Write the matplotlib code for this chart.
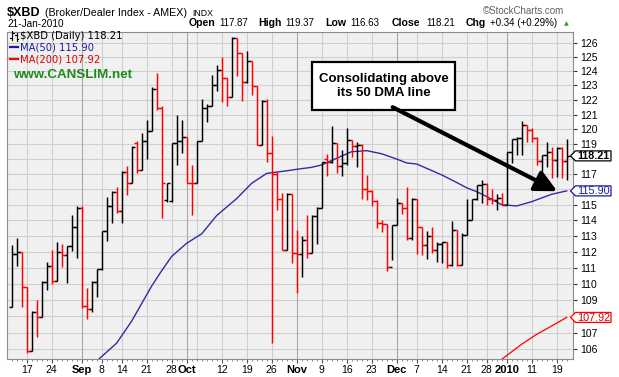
import matplotlib
matplotlib.use("Agg")
import matplotlib.pyplot as plt
import numpy as np
from matplotlib.lines import Line2D
from matplotlib.patches import Polygon, Rectangle
from matplotlib.ticker import FixedLocator, NullLocator, FixedFormatter
from matplotlib.transforms import IdentityTransform

# daily bars, 12-Aug-2009 .. 21-Jan-2010 (one entry per trading day)
opens = [108.55, 111.85, 111.95, 109.77, 105.91, 108.25, 107.97, 110.10, 111.10, 110.13,
         111.96, 111.79, 112.36, 113.55, 114.80, 108.59, 108.43, 110.10, 110.90, 113.28,
         114.89, 115.86, 114.61, 117.16, 116.44, 119.07, 117.28, 119.18, 119.85, 122.74,
         121.44, 115.30, 115.25, 119.07, 119.18, 119.47, 116.44, 116.40, 119.22, 121.44,
         121.55, 123.04, 124.06, 123.50, 122.23, 126.35, 125.25, 123.27, 124.74, 122.97,
         118.95, 121.95, 118.39, 117.00, 115.36, 112.10, 115.70, 111.90, 111.85, 112.74,
         111.93, 114.30, 114.80, 118.00, 117.79, 119.09, 117.55, 117.72, 119.30, 118.88,
         118.96, 116.01, 115.92, 115.27, 113.85, 113.76, 111.02, 113.70, 115.09, 114.78,
         112.85, 115.35, 113.59, 112.42, 112.96, 112.10, 112.51, 112.60, 111.16, 113.37,
         111.16, 113.06, 114.02, 115.35, 116.29, 116.35, 115.35, 115.31, 115.42, 114.99,
         118.50, 119.33, 119.40, 120.28, 119.95, 119.39, 117.89, 118.27, 118.50, 117.94,
         118.72, 117.87]
highs = [112.42, 112.85, 112.00, 109.77, 108.32, 108.97, 110.14, 111.32, 112.10, 112.59,
         112.48, 112.36, 114.34, 114.93, 114.89, 109.71, 110.15, 110.90, 113.28, 115.53,
         115.92, 116.18, 117.20, 117.57, 118.87, 119.23, 119.73, 120.62, 122.92, 123.84,
         121.55, 116.42, 119.07, 120.97, 120.60, 119.50, 117.61, 119.22, 122.05, 121.72,
         123.74, 124.42, 124.97, 123.50, 126.42, 126.35, 125.25, 125.44, 124.74, 122.97,
         121.99, 122.05, 119.56, 117.17, 115.75, 115.75, 115.70, 113.39, 113.00, 114.34,
         114.34, 114.86, 117.83, 118.34, 120.23, 119.09, 118.61, 120.06, 119.30, 119.14,
         119.03, 116.97, 115.97, 115.31, 114.01, 113.76, 113.70, 115.42, 115.09, 116.18,
         115.42, 115.35, 113.59, 113.32, 113.59, 112.61, 112.63, 112.63, 113.98, 113.37,
         113.17, 115.35, 115.35, 116.29, 116.61, 116.40, 116.00, 115.68, 115.74, 118.50,
         119.33, 119.45, 120.57, 120.28, 120.07, 119.50, 118.27, 119.11, 118.83, 118.83,
         118.83, 119.37]
lows = [108.55, 111.12, 108.55, 105.78, 105.91, 106.75, 107.97, 109.60, 109.96, 110.13,
        111.05, 110.01, 112.06, 111.62, 108.49, 107.81, 108.28, 109.16, 110.85, 112.64,
        113.85, 114.45, 113.85, 115.60, 116.44, 117.06, 117.28, 117.99, 119.85, 121.31,
        114.13, 115.20, 115.20, 117.62, 118.40, 116.40, 114.34, 116.40, 119.18, 120.52,
        121.55, 122.60, 121.88, 121.58, 122.23, 123.67, 121.94, 123.16, 122.34, 118.95,
        118.95, 117.83, 106.35, 114.67, 112.10, 112.10, 111.27, 109.40, 110.42, 111.60,
        111.90, 112.51, 114.80, 116.85, 117.74, 117.06, 116.85, 117.60, 118.16, 117.50,
        115.36, 115.31, 114.93, 113.50, 113.27, 110.80, 111.49, 113.70, 114.38, 112.74,
        112.74, 111.86, 111.79, 111.51, 111.90, 111.35, 111.26, 111.00, 111.10, 111.10,
        111.16, 113.06, 114.02, 115.31, 115.10, 114.99, 115.05, 114.67, 114.99, 114.99,
        117.72, 118.27, 118.27, 119.17, 119.17, 117.61, 117.23, 117.49, 116.73, 116.84,
        116.73, 116.63]
closes = [111.85, 111.95, 109.77, 105.91, 108.25, 107.97, 110.10, 111.10, 110.13, 111.96,
          111.79, 112.36, 113.55, 114.78, 108.59, 108.43, 110.10, 110.90, 113.28, 114.89,
          115.86, 114.61, 117.16, 116.44, 118.83, 117.28, 119.18, 119.85, 122.74, 121.44,
          116.40, 116.42, 119.07, 119.18, 119.50, 116.44, 116.40, 119.22, 121.44, 121.55,
          123.04, 124.06, 123.50, 122.23, 126.35, 125.25, 123.27, 124.74, 122.97, 118.95,
          121.95, 118.39, 117.00, 115.36, 112.10, 115.70, 111.89, 111.85, 112.74, 111.93,
          114.30, 114.80, 117.83, 117.79, 119.09, 117.55, 117.72, 119.30, 118.88, 118.96,
          116.01, 115.92, 115.27, 113.85, 113.76, 111.02, 113.70, 115.09, 114.78, 112.85,
          115.35, 113.59, 112.42, 112.96, 112.10, 112.51, 112.60, 111.16, 113.37, 111.16,
          113.06, 114.02, 115.35, 116.29, 116.35, 115.35, 115.31, 115.42, 114.99, 118.50,
          119.33, 119.40, 120.28, 119.95, 119.39, 117.89, 118.27, 118.50, 117.94, 118.72,
          117.87, 118.21]

# moving averages (bar index, value)
ma50_idx = [17, 21, 24, 28, 30, 32, 35, 38, 41, 45, 48, 51, 55, 57, 60, 62, 66, 68, 71,
            74, 77, 79, 81, 86, 89, 91, 93, 95, 98, 101, 104, 108, 111]
ma50 = [105.3, 106.37, 107.7, 109.85, 110.8, 111.7, 112.53, 113.13, 114.3, 115.4, 116.4,
        117.05, 117.22, 117.32, 117.45, 117.61, 118.2, 118.49, 118.56, 118.35, 118.0,
        117.74, 117.67, 116.95, 116.45, 116.1, 115.85, 115.53, 115.0, 114.92, 115.2,
        115.68, 115.90]
ma200_idx = [98, 100, 102, 105, 108, 111]
ma200 = [105.4, 105.85, 106.3, 106.9, 107.4, 107.92]

tick_idx = [3, 8, 14, 18, 22, 27, 32, 35, 42, 47, 52, 57, 62, 67, 72, 77, 81, 86, 91,
            95, 99, 104, 109]
tick_labels = ["17", "24", "Sep", "8", "14", "21", "28", "Oct", "12", "19", "26", "Nov",
               "9", "16", "23", "Dec", "7", "14", "21", "28", "2010", "11", "19"]
month_idx = [14, 35, 57, 77, 99]
extra_grid_idx = [37]
price_ticks = list(range(106, 127))

W, H = 619, 377
BLUE = "#2e2ea3"
RED = "#ff0000"
GREEN = "#1f8a1f"

fig = plt.figure(figsize=(W / 100, H / 100), dpi=100)
fig.patch.set_facecolor("white")
ax = fig.add_axes([6.7 / W, 1 - 359 / H, 566.6 / W, 326.7 / H])
ax.set_facecolor("#f0f0f0")

ax.set_yscale("log")
ax.set_xlim(-1.0, 112.32)
ax.set_ylim(105.42, 126.74)

# grid
for p in price_ticks:
    ax.axhline(p, color="#cfcfcf", lw=0.8, zorder=0)
for i in tick_idx + extra_grid_idx:
    c = "#a8a8a8" if i in month_idx else "#cfcfcf"
    ax.axvline(i, color=c, lw=0.8, zorder=0)

# OHLC bars
x = np.arange(len(closes))
colors = ["black"] + ["red" if c < p else "black" for p, c in zip(closes[:-1], closes[1:])]
ax.vlines(x, lows, highs, colors=colors, lw=1.05, zorder=3)
ax.hlines(opens, x - 0.6, x, colors=colors, lw=1.05, zorder=3)
ax.hlines(closes, x, x + 0.6, colors=colors, lw=1.05, zorder=3)

# moving averages
ax.plot(ma50_idx, ma50, color=BLUE, lw=1.0, zorder=2)
ax.plot(ma200_idx, ma200, color=RED, lw=0.9, zorder=2)

# last values get a tag on the price axis, so their grid labels are left blank
last_vals = [closes[-1], ma50[-1], ma200[-1]]
hidden = {round(v) for v in last_vals}
ytick_text = ["" if p in hidden else str(p) for p in price_ticks]

# axes styling
for s in ax.spines.values():
    s.set_color("#8c8c8c")
    s.set_linewidth(0.8)
ax.yaxis.tick_right()
ax.yaxis.set_major_locator(FixedLocator(price_ticks))
ax.yaxis.set_major_formatter(FixedFormatter(ytick_text))
ax.yaxis.set_minor_locator(NullLocator())
ax.tick_params(axis="y", length=3, pad=2, labelsize=7.5, colors="#333333",
               labelcolor="black")
ax.set_xticks(tick_idx)
ax.set_xticklabels(tick_labels)
ax.xaxis.set_minor_locator(FixedLocator(x))
ax.tick_params(axis="x", which="major", length=3, pad=1.5, labelsize=7.5, colors="#555555",
               labelcolor="black")
ax.tick_params(axis="x", which="minor", length=1.5, colors="#777777")
for lab, i in zip(ax.get_xticklabels(), tick_idx):
    lab.set_family("Liberation Sans")
    if i in month_idx:
        lab.set_fontweight("bold")
        lab.set_fontsize(8)
for lab in ax.get_yticklabels():
    lab.set_family("Liberation Sans")

# annotation box and arrow
ax.add_patch(Rectangle((0.5383, 0.7621), 0.2529, 0.1479, transform=ax.transAxes,
                       facecolor="white", edgecolor="black", lw=1.6, zorder=5))
ax.text(0.6648, 0.836, "Consolidating above\nits 50 DMA line", transform=ax.transAxes,
        ha="center", va="center", fontsize=9.5, fontweight="bold",
        family="Liberation Sans", linespacing=1.2, zorder=6)
ax.annotate("", xy=(109.1, 115.88), xytext=(76.2, 121.5),
            arrowprops=dict(arrowstyle="-|>,head_length=1.0,head_width=0.5",
                            lw=3.0, color="black", shrinkA=0, shrinkB=0,
                            mutation_scale=13),
            zorder=7)


def ptext(px, py, s, **kw):
    kw.setdefault("family", "Liberation Sans")
    return fig.text(px / W, 1 - py / H, s, va="baseline", **kw)


# header
ptext(7, 15.5, "$XBD", fontsize=9, fontweight="bold")
ptext(45, 15.5, "(Broker/Dealer Index - AMEX)", fontsize=7.7)
ptext(192, 15.5, "INDX", fontsize=6.3)
ptext(7, 26.7, "21-Jan-2010", fontsize=7.2)
ptext(483, 13.5, "\u00a9StockCharts.com", fontsize=7, color="#606060")
for px, s, bold in [(188.3, "Open", True), (219, "117.87", False), (258.3, "High", True),
                    (285, "119.37", False), (325.7, "Low", True), (350, "116.63", False),
                    (391.7, "Close", True), (426.7, "118.21", False), (465.7, "Chg", True),
                    (490, "+0.34 (+0.29%)", False)]:
    ptext(px, 26.5, s, fontsize=7.6 if bold else 7.0,
          fontweight="bold" if bold else "normal")
ptext(563.5, 25.5, "\u25b2", fontsize=4.5, color="#22aa22", family="DejaVu Sans")

# legend inside the plot
ptext(20, 39, "$XBD (Daily) 118.21", fontsize=7.2, family="DejaVu Sans")
ptext(20, 50.7, "MA(50) 115.90", fontsize=7.2, family="DejaVu Sans", color="#1a1a9c")
ptext(20, 62.3, "MA(200) 107.92", fontsize=7.2, family="DejaVu Sans", color="#e00000")
ptext(12.7, 78.3, "www.CANSLIM.net", fontsize=9.6, fontweight="bold", color=GREEN)
for py, c in [(47.3, "#1a1a9c"), (59.0, RED)]:
    fig.add_artist(Line2D([10, 18], [H - py, H - py], color=c, lw=1.6,
                          transform=IdentityTransform()))
# tiny bar icon
for bx, y0, y1, yo, yc in [(12, 31, 40, 38, 33), (16.5, 33, 41, 35, 39)]:
    fig.add_artist(Line2D([bx, bx], [H - y0, H - y1], color="black", lw=0.8,
                          transform=IdentityTransform()))
    fig.add_artist(Line2D([bx - 1.8, bx], [H - yo, H - yo], color="black", lw=0.8,
                          transform=IdentityTransform()))
    fig.add_artist(Line2D([bx, bx + 1.8], [H - yc, H - yc], color="black", lw=0.8,
                          transform=IdentityTransform()))


# last-value tags on the price axis
def tag(value, label, edge, txt_color, bold):
    yp = ax.transData.transform((0, value))[1]
    h = 5.0
    verts = [(570.5, yp), (575.5, yp + h), (611, yp + h), (611, yp - h), (575.5, yp - h)]
    fig.add_artist(Polygon(verts, closed=True, transform=IdentityTransform(),
                           facecolor="white", edgecolor=edge, lw=0.9, zorder=5))
    fig.text(577.5, yp - 0.3, label, transform=IdentityTransform(), ha="left",
             va="center", fontsize=7.8, color=txt_color, family="Liberation Sans",
             fontweight="bold" if bold else "normal", zorder=6)


tag(closes[-1], f"{closes[-1]:.2f}", "black", "black", True)
tag(ma50[-1], f"{ma50[-1]:.2f}", "#1a1a9c", "#1a1a9c", False)
tag(ma200[-1], f"{ma200[-1]:.2f}", RED, "#cc0000", False)

fig.savefig("out.png", dpi=100)
